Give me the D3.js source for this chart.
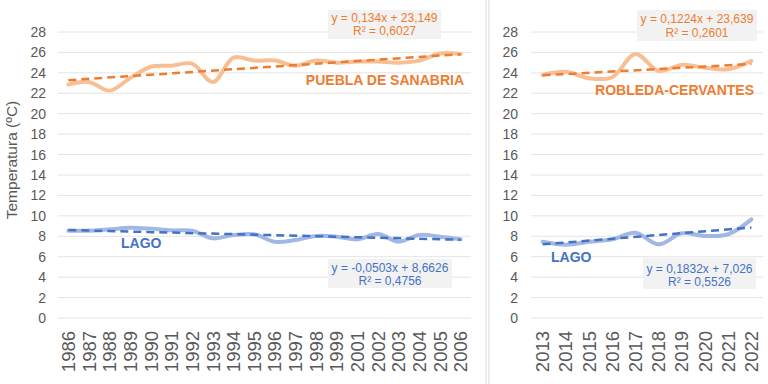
<!DOCTYPE html>
<html>
<head>
<meta charset="utf-8">
<script src="https://cdn.jsdelivr.net/npm/d3@7"></script>
<style>
  body { margin: 0; background: #fff; }
  svg { display: block; font-family: "Liberation Sans", Arial, sans-serif; }
  .tick-y { font-size: 14px; fill: #595959; }
  .tick-x { font-size: 18.5px; fill: #595959; }
  .eq { font-size: 12px; }
  .series-label { font-size: 14px; font-weight: bold; }
</style>
</head>
<body>
<svg id="chart" width="768" height="384"></svg>
<script>

// ---- data ----
const yearsA = ["1986","1987","1988","1989","1990","1991","1992","1993","1994","1995",
                "1996","1997","1998","1999","2001","2002","2003","2004","2005","2006"];
const pueblaValues = [22.85, 23.1, 22.26, 23.5, 24.6, 24.7, 24.9, 23.1, 25.5, 25.2,
                      25.2, 24.7, 25.2, 25.0, 25.1, 25.1, 25.0, 25.2, 25.9, 25.85];
const lagoValuesA = [8.55, 8.55, 8.68, 8.84, 8.75, 8.58, 8.55, 7.8, 8.13, 8.19,
                     7.47, 7.64, 8.03, 7.96, 7.7, 8.22, 7.47, 8.13, 7.96, 7.7];

const yearsB = ["2013","2014","2015","2016","2017","2018","2019","2020","2021","2022"];
const robledaValues = [23.8, 24.1, 23.47, 23.57, 25.85, 24.19, 24.78, 24.5, 24.35, 25.17];
const lagoValuesB = [7.47, 7.18, 7.47, 7.7, 8.35, 7.21, 8.29, 8.03, 8.2, 9.66];

// trendline coefficients (slope, intercept) as printed on the chart
const trendPuebla = [0.134, 23.149];
const trendLagoA = [-0.0503, 8.6626];
const trendRobleda = [0.1224, 23.639];
const trendLagoB = [0.1832, 7.026];

const eqPuebla = ["y = 0,134x + 23,149", "R² = 0,6027"];
const eqLagoA = ["y = -0,0503x + 8,6626", "R² = 0,4756"];
const eqRobleda = ["y = 0,1224x + 23,639", "R² = 0,2601"];
const eqLagoB = ["y = 0,1832x + 7,026", "R² = 0,5526"];

const yTicks = [0, 2, 4, 6, 8, 10, 12, 14, 16, 18, 20, 22, 24, 26, 28];

// ---- setup ----
const svg = d3.select("#chart");
const ORANGE = "#ED7D31", ORANGE_LIGHT = "#F8BF95";
const BLUE = "#4472C4", BLUE_LIGHT = "#A2B8E4";

const yScale = d3.scaleLinear().domain([0, 28]).range([318, 32]);

// panel separators
[486, 489].forEach(x => {
    svg.append("line")
        .attr("x1", x).attr("x2", x).attr("y1", 0).attr("y2", 384)
        .attr("stroke", "#D9D9D9").attr("stroke-width", 1);
});

// y axis title
svg.append("text")
    .attr("transform", "translate(17,160) rotate(-90)")
    .attr("text-anchor", "middle")
    .attr("font-size", 15.5)
    .attr("fill", "#595959")
    .text("Temperatura (ºC)");

const panels = [
    {
        years: yearsA, x0: 58, x1: 471, tickX: 46,
        series: [
            {values: pueblaValues, trend: trendPuebla, eq: eqPuebla, light: ORANGE_LIGHT, dark: ORANGE,
             label: "PUEBLA DE SANABRIA", lx: 464, ly: 85, anchor: "end",
             box: {x: 328, y: 10, w: 113, h: 29, t1: 21.5, t2: 35}},
            {values: lagoValuesA, trend: trendLagoA, eq: eqLagoA, light: BLUE_LIGHT, dark: BLUE,
             label: "LAGO", lx: 121, ly: 248, anchor: "start",
             box: {x: 328, y: 259, w: 124, h: 29, t1: 271.5, t2: 285}}
        ]
    },
    {
        years: yearsB, x0: 531, x1: 763, tickX: 518,
        series: [
            {values: robledaValues, trend: trendRobleda, eq: eqRobleda, light: ORANGE_LIGHT, dark: ORANGE,
             label: "ROBLEDA-CERVANTES", lx: 754, ly: 95, anchor: "end",
             box: {x: 637, y: 10, w: 120, h: 31, t1: 23, t2: 36.5}},
            {values: lagoValuesB, trend: trendLagoB, eq: eqLagoB, light: BLUE_LIGHT, dark: BLUE,
             label: "LAGO", lx: 551, ly: 262, anchor: "start",
             box: {x: 643, y: 258, w: 113, h: 31, t1: 272.5, t2: 286}}
        ]
    }
];

panels.forEach(p => {
    const xScale = d3.scaleBand().domain(p.years).range([p.x0, p.x1]);
    const cx = d => xScale(d) + xScale.bandwidth() / 2;
    const g = svg.append("g");

    // gridlines
    g.selectAll(".grid")
        .data(yTicks)
        .enter().append("line")
        .attr("x1", p.x0).attr("x2", p.x1)
        .attr("y1", d => yScale(d)).attr("y2", d => yScale(d))
        .attr("stroke", "#E4E4E4").attr("stroke-width", 1);

    // y tick labels
    g.selectAll(".tick-y")
        .data(yTicks)
        .enter().append("text")
        .attr("class", "tick-y")
        .attr("x", p.tickX)
        .attr("y", d => yScale(d))
        .attr("dy", "0.36em")
        .attr("text-anchor", "end")
        .text(d => d);

    // x tick labels (rotated)
    g.selectAll(".tick-x")
        .data(p.years)
        .enter().append("text")
        .attr("class", "tick-x")
        .attr("transform", d => `translate(${cx(d)},331) rotate(-90)`)
        .attr("dy", "0.36em")
        .attr("text-anchor", "end")
        .text(d => d);

    const line = d3.line()
        .x((d, i) => cx(p.years[i]))
        .y(d => yScale(d))
        .curve(d3.curveCatmullRom.alpha(0.5));

    p.series.forEach(s => {
        // smoothed data line
        g.append("path")
            .datum(s.values)
            .attr("fill", "none")
            .attr("stroke", s.light)
            .attr("stroke-width", 4)
            .attr("stroke-linecap", "round")
            .attr("d", line);

        // linear trendline from printed coefficients (x = 1..n)
        const n = p.years.length;
        const trendPts = [[p.years[0], s.trend[0] * 1 + s.trend[1]],
                          [p.years[n - 1], s.trend[0] * n + s.trend[1]]];
        g.append("path")
            .datum(trendPts)
            .attr("fill", "none")
            .attr("stroke", s.dark)
            .attr("stroke-width", 2.5)
            .attr("stroke-dasharray", "8,5")
            .attr("d", d3.line().x(d => cx(d[0])).y(d => yScale(d[1])));

        // series label
        g.append("text")
            .attr("class", "series-label")
            .attr("x", s.lx).attr("y", s.ly)
            .attr("text-anchor", s.anchor)
            .attr("fill", s.dark)
            .text(s.label);

        // equation box
        const b = s.box;
        g.append("rect")
            .attr("x", b.x).attr("y", b.y)
            .attr("width", b.w).attr("height", b.h)
            .attr("fill", "#F2F2F2");
        g.selectAll(null)
            .data(s.eq)
            .enter().append("text")
            .attr("class", "eq")
            .attr("x", b.x + b.w / 2)
            .attr("y", (d, i) => i === 0 ? b.t1 : b.t2)
            .attr("text-anchor", "middle")
            .attr("fill", s.dark)
            .text(d => d);
    });
});

</script>
</body>
</html>
